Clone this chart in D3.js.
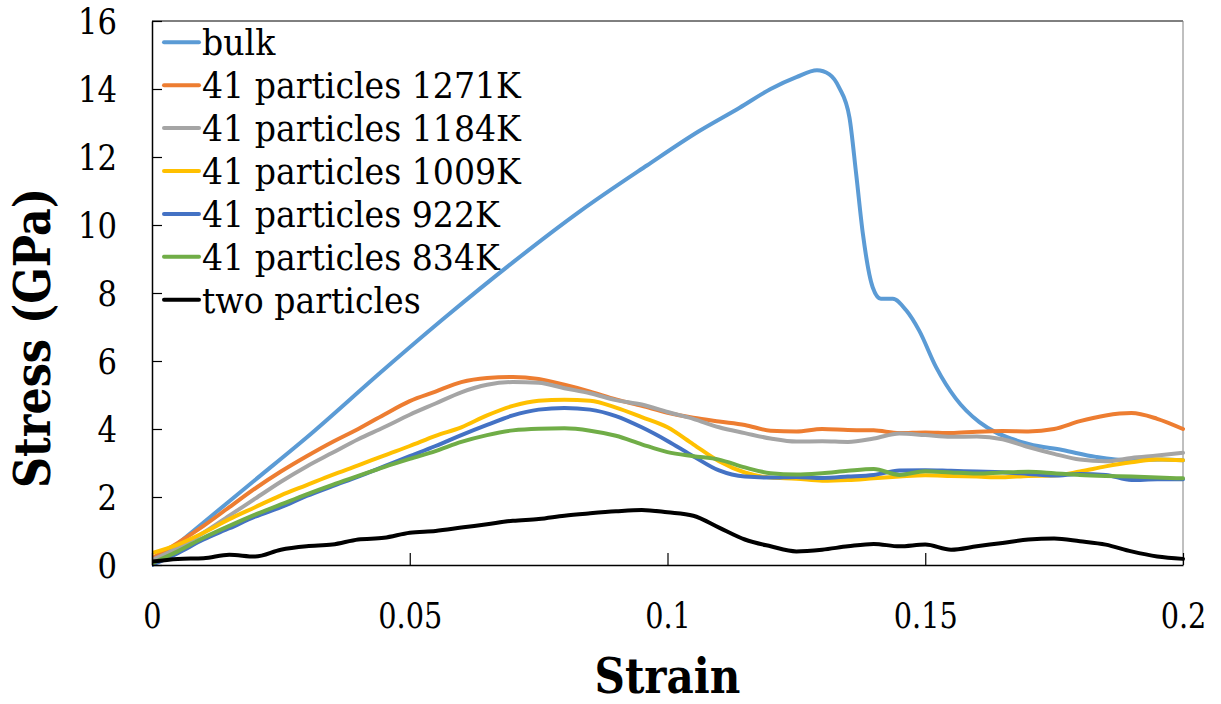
<!DOCTYPE html>
<html>
<head>
<meta charset="utf-8">
<script src="https://cdn.jsdelivr.net/npm/d3@7"></script>
<style>
  html, body { margin: 0; padding: 0; background: #fff; }
  svg { display: block; }
</style>
</head>
<body>
<svg id="chart" width="1221" height="704"></svg>
<script>
// ---------- data ----------
const xTicks = [0, 0.05, 0.1, 0.15, 0.2];
const xTickLabels = ["0", "0.05", "0.1", "0.15", "0.2"];
const yTicks = [0, 2, 4, 6, 8, 10, 12, 14, 16];
const yTickLabels = ["0", "2", "4", "6", "8", "10", "12", "14", "16"];

const seriesNames = ["bulk", "41 particles 1271K", "41 particles 1184K", "41 particles 1009K",
                     "41 particles 922K", "41 particles 834K", "two particles"];
const seriesColors = ["#5B9BD5", "#ED7D31", "#A5A5A5", "#FFC000", "#4472C4", "#70AD47", "#000000"];

const bulkStrain = [0, 0.01, 0.02, 0.03, 0.045, 0.057, 0.07, 0.083, 0.096, 0.106, 0.114, 0.12, 0.125,
  0.129, 0.1314, 0.1333, 0.1353, 0.1366, 0.1379, 0.1398, 0.1414, 0.1437, 0.1463, 0.1488, 0.1521,
  0.1559, 0.1605, 0.1637, 0.167, 0.1702, 0.1766, 0.1831, 0.1895, 0.196, 0.2];
const bulkStress = [0, 1.25, 2.5, 3.75, 5.75, 7.3, 8.9, 10.4, 11.75, 12.75, 13.45, 14.0, 14.35,
  14.55, 14.43, 14.04, 13.16, 11.5, 9.74, 8.17, 7.83, 7.83, 7.49, 6.9, 5.82,
  4.9, 4.2, 3.9, 3.7, 3.55, 3.38, 3.18, 3.08, 3.1, 3.08];

const strainGrid = [0, 0.005, 0.01, 0.015, 0.02, 0.025, 0.03, 0.035, 0.04, 0.045, 0.05, 0.055, 0.06,
  0.065, 0.07, 0.075, 0.08, 0.085, 0.09, 0.095, 0.1, 0.105, 0.11, 0.115, 0.12, 0.125, 0.13, 0.135,
  0.14, 0.145, 0.15, 0.155, 0.16, 0.165, 0.17, 0.175, 0.18, 0.185, 0.19, 0.195, 0.2];

const stress1271 = [0.2, 0.65, 1.15, 1.7, 2.25, 2.75, 3.2, 3.62, 4.0, 4.42, 4.82, 5.1, 5.38,
  5.5, 5.53, 5.47, 5.3, 5.1, 4.87, 4.68, 4.48, 4.33, 4.22, 4.12, 3.95, 3.93, 4.0, 3.97,
  3.96, 3.88, 3.9, 3.88, 3.92, 3.94, 3.93, 4.0, 4.23, 4.4, 4.47, 4.3, 4.0];
const stress1184 = [0.15, 0.5, 0.95, 1.45, 1.95, 2.45, 2.9, 3.3, 3.7, 4.05, 4.42, 4.75, 5.08,
  5.3, 5.38, 5.36, 5.2, 5.05, 4.85, 4.72, 4.5, 4.3, 4.05, 3.88, 3.72, 3.63, 3.64, 3.62,
  3.72, 3.87, 3.82, 3.77, 3.78, 3.7, 3.47, 3.27, 3.1, 3.05, 3.15, 3.22, 3.3];
const stress1009 = [0.35, 0.6, 0.95, 1.35, 1.7, 2.05, 2.35, 2.65, 2.93, 3.22, 3.5, 3.8, 4.05,
  4.4, 4.68, 4.83, 4.86, 4.83, 4.63, 4.35, 4.05, 3.55, 3.05, 2.72, 2.57, 2.54, 2.48, 2.5,
  2.55, 2.6, 2.64, 2.62, 2.6, 2.58, 2.62, 2.63, 2.75, 2.9, 3.02, 3.1, 3.08];
const stress922 = [0.0, 0.35, 0.75, 1.08, 1.42, 1.7, 2.03, 2.32, 2.6, 2.9, 3.2, 3.5, 3.82,
  4.12, 4.4, 4.57, 4.62, 4.57, 4.38, 4.05, 3.65, 3.2, 2.78, 2.6, 2.57, 2.59, 2.56, 2.6,
  2.65, 2.78, 2.79, 2.77, 2.75, 2.73, 2.68, 2.63, 2.68, 2.65, 2.5, 2.52, 2.52];
const stress834 = [0.05, 0.4, 0.8, 1.15, 1.48, 1.78, 2.08, 2.36, 2.62, 2.88, 3.12, 3.35, 3.62,
  3.82, 3.96, 4.01, 4.02, 3.95, 3.8, 3.55, 3.32, 3.2, 3.1, 2.87, 2.7, 2.66, 2.7, 2.77,
  2.82, 2.65, 2.76, 2.72, 2.69, 2.72, 2.74, 2.7, 2.65, 2.62, 2.6, 2.57, 2.55];
const stressTwo = [0.1, 0.18, 0.2, 0.3, 0.25, 0.45, 0.55, 0.6, 0.75, 0.8, 0.95, 1.0, 1.1,
  1.2, 1.3, 1.35, 1.45, 1.52, 1.58, 1.62, 1.55, 1.45, 1.1, 0.75, 0.55, 0.4, 0.45, 0.55,
  0.62, 0.55, 0.6, 0.45, 0.55, 0.65, 0.75, 0.78, 0.7, 0.6, 0.4, 0.25, 0.18];

// ---------- layout ----------
const FONT = "DejaVu Serif, serif";
const svg = d3.select("#chart");
const X0 = 152, X1 = 1183, Y0 = 565, Y1 = 21;
const x = d3.scaleLinear().domain([0, 0.2]).range([X0, X1]);
const y = d3.scaleLinear().domain([0, 16]).range([Y0, Y1]);

// horizontally condense a group of texts so that a reference text gets a target width
function condense(sel, refNode, target) {
  const s = target / refNode.getComputedTextLength();
  sel.each(function () {
    const t = d3.select(this);
    const ax = +t.attr("x") || 0;
    const base = t.attr("data-base") || "";
    t.attr("transform", `${base} translate(${ax},0) scale(${s},1) translate(${-ax},0)`);
  });
}

svg.append("defs").append("clipPath").attr("id", "clip")
  .append("rect").attr("x", X0).attr("y", Y1 - 2).attr("width", X1 - X0 + 2).attr("height", Y0 - Y1 + 4);

svg.append("line").attr("x1", X0).attr("x2", X1).attr("y1", Y1).attr("y2", Y1)
  .attr("stroke", "#000").attr("stroke-width", 1);
svg.append("line").attr("x1", X1).attr("x2", X1).attr("y1", Y1).attr("y2", Y0)
  .attr("stroke", "#808080").attr("stroke-width", 1);

const all = [
  bulkStrain.map((s, i) => [s, bulkStress[i]]),
  strainGrid.map((s, i) => [s, stress1271[i]]),
  strainGrid.map((s, i) => [s, stress1184[i]]),
  strainGrid.map((s, i) => [s, stress1009[i]]),
  strainGrid.map((s, i) => [s, stress922[i]]),
  strainGrid.map((s, i) => [s, stress834[i]]),
  strainGrid.map((s, i) => [s, stressTwo[i]])
];
const line = d3.line().x(d => x(d[0])).y(d => y(d[1])).curve(d3.curveMonotoneX);
const gLines = svg.append("g").attr("clip-path", "url(#clip)");
all.forEach((data, i) => {
  gLines.append("path").datum(data).attr("d", line)
    .attr("fill", "none").attr("stroke", seriesColors[i])
    .attr("stroke-width", 4).attr("stroke-linejoin", "round").attr("stroke-linecap", "round");
});

// x axis
const xAxis = d3.axisBottom(x).tickValues(xTicks).tickSizeInner(-12).tickSizeOuter(0)
  .tickFormat((d, i) => xTickLabels[i]).tickPadding(0);
const gx = svg.append("g").attr("transform", `translate(0,${Y0})`).call(xAxis)
  .attr("font-family", FONT).attr("font-size", 36);
gx.select(".domain").attr("stroke", "#000").attr("stroke-width", 1.5);
gx.selectAll(".tick line").attr("stroke", "#000").attr("stroke-width", 1.2);
const xt = gx.selectAll(".tick text").attr("y", 63).attr("dy", 0).attr("x", 0).attr("fill", "#000");
condense(xt, xt.nodes()[1], 64);

// y axis
const yAxis = d3.axisLeft(y).tickValues(yTicks).tickSizeInner(-10).tickSizeOuter(0)
  .tickFormat((d, i) => yTickLabels[i]);
const gy = svg.append("g").attr("transform", `translate(${X0},0)`).call(yAxis)
  .attr("font-family", FONT).attr("font-size", 36);
gy.select(".domain").attr("stroke", "#000").attr("stroke-width", 1.5);
gy.selectAll(".tick line").attr("stroke", "#000").attr("stroke-width", 1.2);
const yt = gy.selectAll(".tick text").attr("x", -35).attr("dy", "0.36em").attr("fill", "#000");
condense(yt, yt.nodes()[7], 39);

// titles
const xTitle = svg.append("text").attr("x", (X0 + X1) / 2).attr("y", 693)
  .attr("text-anchor", "middle").attr("font-family", FONT)
  .attr("font-size", 49).attr("font-weight", "bold").attr("fill", "#000").text("Strain");
condense(xTitle, xTitle.node(), 146);

const yTitle = svg.append("text").attr("x", 0).attr("y", 0)
  .attr("data-base", "translate(50,338) rotate(-90)")
  .attr("text-anchor", "middle").attr("font-family", FONT)
  .attr("font-size", 50).attr("font-weight", "bold").attr("fill", "#000").text("Stress (GPa)");
condense(yTitle, yTitle.node(), 300);

// legend
const legend = svg.append("g");
seriesNames.forEach((name, i) => {
  const ly = 42.3 + i * 42.9;
  legend.append("line").attr("x1", 164).attr("x2", 199).attr("y1", ly).attr("y2", ly)
    .attr("stroke", seriesColors[i]).attr("stroke-width", 4).attr("stroke-linecap", "round");
  legend.append("text").attr("class", "leg").attr("x", 202).attr("y", ly + 13)
    .attr("font-family", FONT).attr("font-size", 35).attr("fill", "#000").text(name);
});
const lt = legend.selectAll("text.leg");
condense(lt, lt.nodes()[1], 319);
</script>
</body>
</html>
